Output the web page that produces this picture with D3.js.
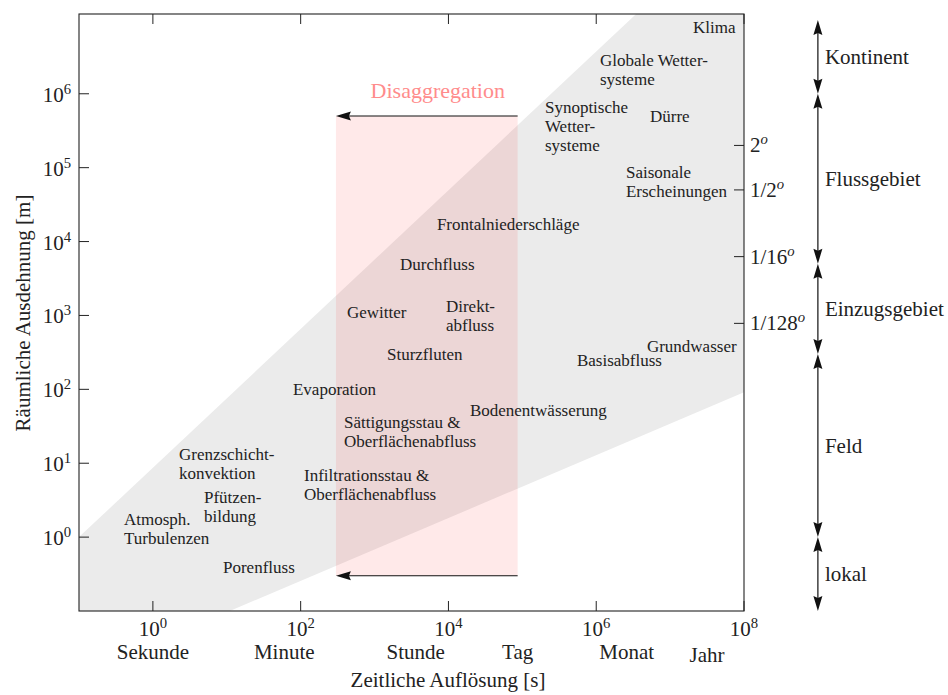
<!DOCTYPE html>
<html><head><meta charset="utf-8">
<script src="https://cdn.jsdelivr.net/npm/d3@7"></script>
<style>
body{margin:0;background:#fff}
svg text{font-family:'Liberation Serif','Times New Roman',Times,'DejaVu Serif','Noto Serif',serif;fill:#222}
</style>
</head><body>
<svg id="c" width="948" height="695" font-family="Liberation Serif, Times New Roman, DejaVu Serif, serif"></svg>
<script>
// ---------- data ----------
const xTickValues = [1e0, 1e2, 1e4, 1e6, 1e8];
const yTickValues = [1e0, 1e1, 1e2, 1e3, 1e4, 1e5, 1e6];
const timeNames = ["Sekunde", "Minute", "Stunde", "Tag", "Monat", "Jahr"];
const timeSeconds = [1, 60, 3600, 86400, 2592000, 31536000];
const degreeTickValues = [2e5, 5e4, 6250, 781.25];
const degreeTickLabels = ["2", "1/2", "1/16", "1/128"];
const scaleNames = ["Kontinent", "Flussgebiet", "Einzugsgebiet", "Feld", "lokal"];
const scaleBounds = [1e7, 1e6, 5e3, 3e2, 1, 0.1];
const bandUpperX = [0.1, 1e8], bandUpperY = [1, Math.pow(10, 8.45)];
const bandLowerX = [11, 1e8], bandLowerY = [0.1, 91];
const disaggX = [300, 86400], disaggY = [0.3, 5e5];
const processNames = [
  ["Klima"], ["Globale Wetter-", "systeme"], ["Synoptische", "Wetter-", "systeme"], ["Dürre"],
  ["Saisonale", "Erscheinungen"], ["Frontalniederschläge"], ["Durchfluss"], ["Gewitter"],
  ["Direkt-", "abfluss"], ["Sturzfluten"], ["Grundwasser"], ["Basisabfluss"], ["Evaporation"],
  ["Bodenentwässerung"], ["Sättigungsstau &", "Oberflächenabfluss"], ["Infiltrationsstau &", "Oberflächenabfluss"],
  ["Grenzschicht-", "konvektion"], ["Pfützen-", "bildung"], ["Atmosph.", "Turbulenzen"], ["Porenfluss"]
];
// log10 of time (left edge of label) and log10 of extent (label centre)
const processLogT = [7.309, 6.050, 5.306, 6.727, 6.402, 3.844, 3.344, 2.627, 3.966, 3.168, 6.686, 5.739, 1.896, 4.291, 2.586, 2.045, 0.353, 0.691, -0.391, 0.949];
const processLogL = [6.897, 6.322, 5.551, 5.693, 4.800, 4.231, 3.690, 3.041, 2.986, 2.472, 2.581, 2.391, 1.999, 1.714, 1.424, 0.700, 0.984, 0.409, 0.111, -0.410];

// ---------- layout ----------
const svg = d3.select("#c");
const L = 79, R = 744, T = 14, B = 611;
const x = d3.scaleLog().domain([1e-1, 1e8]).range([L, R]);
const y = d3.scaleLog().domain([1e-1, Math.pow(10, (B - T) / ((R - L) / 9) - 1)]).range([B, T]);
const big = 21, small = 17;

svg.append("clipPath").attr("id", "clip").append("rect")
  .attr("x", L).attr("y", T).attr("width", R - L).attr("height", B - T);

// grey band
const band = [[bandUpperX[0], bandUpperY[0]], [bandUpperX[1], bandUpperY[1]],
              [bandLowerX[1], bandLowerY[1]], [bandLowerX[0], bandLowerY[0]], [0.1, 0.1]];
svg.append("path").attr("clip-path", "url(#clip)")
  .attr("d", d3.line().x(d => x(d[0])).y(d => y(d[1]))(band) + "Z")
  .attr("fill", "#ebebeb");

// disaggregation rect
svg.append("rect").attr("x", x(disaggX[0])).attr("y", y(disaggY[1]))
  .attr("width", x(disaggX[1]) - x(disaggX[0])).attr("height", y(disaggY[0]) - y(disaggY[1]))
  .attr("fill", "rgba(255,0,0,0.085)");

function arrowHead(g, px, py, dir) {
  const len = 15, hw = 4.5;
  let pts;
  if (dir === "left") pts = [[px, py], [px + len, py - hw], [px + len - 2, py], [px + len, py + hw]];
  if (dir === "up") pts = [[px, py], [px - hw, py + len], [px, py + len - 2], [px + hw, py + len]];
  if (dir === "down") pts = [[px, py], [px - hw, py - len], [px, py - len + 2], [px + hw, py - len]];
  g.append("path").attr("d", "M" + pts.map(p => p.join(",")).join("L") + "Z").attr("fill", "#111");
}
disaggY.forEach(v => {
  svg.append("line").attr("x1", x(disaggX[1])).attr("x2", x(disaggX[0]) + 10)
    .attr("y1", y(v)).attr("y2", y(v)).attr("stroke", "#111").attr("stroke-width", 1.2);
  arrowHead(svg, x(disaggX[0]), y(v), "left");
});
svg.append("text").attr("x", (x(disaggX[0]) + x(disaggX[1])) / 2 + 11).attr("y", y(disaggY[1]) - 18)
  .attr("text-anchor", "middle").attr("font-size", 22).style("fill", "#ff8c8c").text("Disaggregation");

// process labels
processNames.forEach((lines, i) => {
  const cx = x(Math.pow(10, processLogT[i])), cy = y(Math.pow(10, processLogL[i]));
  const lh = 19;
  const t = svg.append("text").attr("font-size", small);
  lines.forEach((ln, j) => {
    t.append("tspan").attr("x", cx).attr("y", cy + 5.5 - (lines.length - 1) * lh / 2 + j * lh).text(ln);
  });
});

// frame
svg.append("rect").attr("x", L).attr("y", T).attr("width", R - L).attr("height", B - T)
  .attr("fill", "none").attr("stroke", "#222").attr("stroke-width", 1.1);

const tk = 10;
function powLabel(sel, base, exp) {
  sel.append("tspan").text(base);
  sel.append("tspan").attr("font-size", big * 0.7).attr("dy", -8).text(exp);
}
xTickValues.forEach(v => {
  const px = x(v);
  svg.append("line").attr("x1", px).attr("x2", px).attr("y1", B).attr("y2", B - tk).attr("stroke", "#222");
  svg.append("line").attr("x1", px).attr("x2", px).attr("y1", T).attr("y2", T + tk).attr("stroke", "#222");
  const t = svg.append("text").attr("x", px).attr("y", 636).attr("text-anchor", "middle").attr("font-size", big);
  powLabel(t, "10", Math.round(Math.log10(v)));
});
timeNames.forEach((n, i) => {
  svg.append("text").attr("x", x(timeSeconds[i])).attr("y", n === "Jahr" ? 662 : 659)
    .attr("text-anchor", "middle").attr("font-size", big).text(n);
});
yTickValues.forEach(v => {
  const py = y(v);
  svg.append("line").attr("x1", L).attr("x2", L + tk).attr("y1", py).attr("y2", py).attr("stroke", "#222");
  const t = svg.append("text").attr("x", L - 8).attr("y", py + 8).attr("text-anchor", "end").attr("font-size", big);
  powLabel(t, "10", Math.round(Math.log10(v)));
});
degreeTickValues.forEach((v, i) => {
  const py = y(v);
  svg.append("line").attr("x1", R).attr("x2", R - tk).attr("y1", py).attr("y2", py).attr("stroke", "#222");
  const t = svg.append("text").attr("x", R + 6).attr("y", py + 7).attr("font-size", big);
  t.append("tspan").text(degreeTickLabels[i]);
  t.append("tspan").attr("font-size", big * 0.7).attr("font-style", "italic").attr("dy", -8).text("o");
});

svg.append("text").attr("x", 448).attr("y", 687).attr("text-anchor", "middle").attr("font-size", big)
  .text("Zeitliche Auflösung [s]");
svg.append("text").attr("transform", "translate(30,313) rotate(-90)").attr("text-anchor", "middle")
  .attr("font-size", big).text("Räumliche Ausdehnung [m]");

const sx = x(1e9);
scaleNames.forEach((n, i) => {
  const y1 = y(scaleBounds[i]), y2 = y(scaleBounds[i + 1]);
  svg.append("line").attr("x1", sx).attr("x2", sx).attr("y1", y1 + 12).attr("y2", y2 - 12)
    .attr("stroke", "#111").attr("stroke-width", 1.2);
  arrowHead(svg, sx, y1, "up");
  arrowHead(svg, sx, y2, "down");
  const mid = Math.sqrt(scaleBounds[i] * scaleBounds[i + 1]);
  svg.append("text").attr("x", sx + 7).attr("y", y(mid) + 7).attr("font-size", big).text(n);
});
</script>
</body></html>
